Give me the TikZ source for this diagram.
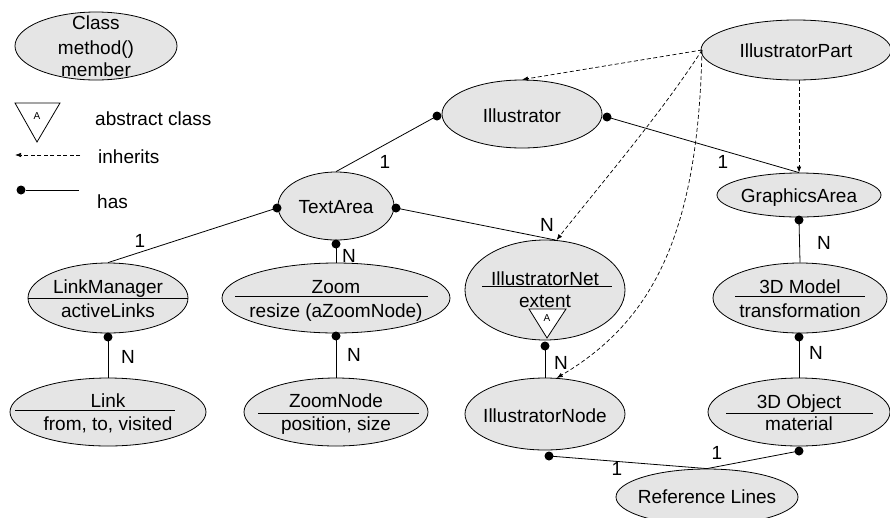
\documentclass[tikz,border=0pt]{standalone}
\usepackage{fontspec}
\setmainfont{Liberation Sans}
\usetikzlibrary{shapes.geometric,arrows.meta,calc}
\begin{document}
\begin{tikzpicture}[x=1pt,y=-1pt,
  cls/.style={ellipse, draw, fill=gray!20, line width=0.8pt, inner sep=0pt},
  txt/.style={font=\fontsize{19}{22}\selectfont, anchor=base, inner sep=0pt},
  num/.style={font=\fontsize{19}{22}\selectfont, inner sep=0pt},
  small/.style={font=\fontsize{10}{12}\selectfont, inner sep=0pt},
  dot/.style={circle, fill=black, inner sep=0pt, minimum size=9pt},
  has/.style={line width=0.8pt},
  sep/.style={line width=0.8pt},
  inh/.style={line width=0.7pt, dash pattern=on 4pt off 2.5pt, -{Latex[length=6pt,width=4.5pt]}},
  tri/.style={line width=0.8pt, fill=white}]
\useasboundingbox (0,0) rectangle (890,517);

% ---------- legend ----------
\node[cls, minimum width=162pt, minimum height=68pt] (legcls) at (96,46) {};
\node[txt] (legc1) at (96,29) {Class};
\node[txt] (legc2) at (96,54) {method()};
\node[txt] (legc3) at (96,76) {member};
\draw[tri] (15,103) -- (60,103) -- (37,142) -- cycle;
\node[small] (legA) at (37,116) {A};
\node[txt, anchor=base west] (legabs) at (95,125) {abstract class};
\coordinate (inhA) at (80,155);
\coordinate (inhB) at (15,155);
\draw[inh] (inhA) -- (inhB);
\node[txt, anchor=base west] (leginh) at (98,163) {inherits};
\node[dot] (hasdot) at (21,190) {};
\coordinate (hasend) at (79,190);
\draw[has] (hasdot) -- (hasend);
\node[txt, anchor=base west] (leghas) at (97,208) {has};

% ---------- classes ----------
\node[cls, minimum width=160pt, minimum height=68pt] (ill) at (522,114) {};
\node[txt] (illT) at (522,122) {Illustrator};

\node[cls, minimum width=190pt, minimum height=60pt] (part) at (796,50) {};
\node[txt] (partT) at (796,57) {IllustratorPart};

\node[cls, minimum width=116pt, minimum height=68pt] (ta) at (336,206) {};
\node[txt] (taT) at (336,213) {TextArea};

\node[cls, minimum width=164pt, minimum height=44pt] (ga) at (799,195) {};
\node[txt] (gaT) at (799,202) {GraphicsArea};

\node[cls, minimum width=160pt, minimum height=70pt] (lm) at (108,298) {};
\draw[sep] (lm.west) -- (lm.east);
\node[txt] (lmT1) at (108,293) {LinkManager};
\node[txt] (lmT2) at (108,317) {activeLinks};

\node[cls, minimum width=228pt, minimum height=70pt] (zoom) at (336,298) {};
\draw[sep] (235,296) -- (428,296);
\node[txt] (zoomT1) at (336,293) {Zoom};
\node[txt] (zoomT2) at (336,317) {resize (aZoomNode)};

\node[cls, minimum width=196pt, minimum height=68pt] (link) at (108,412) {};
\draw[sep] (15,410) -- (175,410);
\node[txt] (linkT1) at (108,407) {Link};
\node[txt] (linkT2) at (108,430) {from, to, visited};

\node[cls, minimum width=184pt, minimum height=68pt] (zn) at (336,412) {};
\draw[sep] (258,413) -- (419,413);
\node[txt] (znT1) at (336,407) {ZoomNode};
\node[txt] (znT2) at (336,430) {position, size};

\node[cls, minimum width=160pt, minimum height=100pt] (net) at (545,290) {};
\draw[sep] (482,286) -- (612,286);
\node[txt] (netT1) at (545,285) {IllustratorNet};
\node[txt] (netT2) at (545,307) {extent};
\draw[tri] (529,309) -- (566,309) -- (547,338) -- cycle;
\node[small] (netA) at (547,318) {A};

\node[cls, minimum width=160pt, minimum height=72pt] (inode) at (545,414) {};
\node[txt] (inodeT) at (545,422) {IllustratorNode};

\node[cls, minimum width=174pt, minimum height=70pt] (model) at (800,298) {};
\draw[sep] (735,296) -- (865,296);
\node[txt] (modelT1) at (800,293) {3D Model};
\node[txt] (modelT2) at (800,317) {transformation};

\node[cls, minimum width=182pt, minimum height=68pt] (obj) at (799,412) {};
\draw[sep] (726,413) -- (873,413);
\node[txt] (objT1) at (799,408) {3D Object};
\node[txt] (objT2) at (799,430) {material};

\node[cls, minimum width=182pt, minimum height=56pt] (ref) at (707,497) {};
\node[txt] (refT) at (707,503) {Reference Lines};

% ---------- has connectors ----------
\node[dot] (d1) at (437,116) {};
\node[dot] (d2) at (607,117) {};
\node[dot] (d3) at (277,208) {};
\node[dot] (d4) at (396,208) {};
\node[dot] (d5) at (336,244) {};
\node[dot] (d6) at (108,337) {};
\node[dot] (d7) at (336,336) {};
\node[dot] (d8) at (545,346) {};
\node[dot] (d9) at (799,220) {};
\node[dot] (d10) at (799,337) {};
\node[dot] (d11) at (549,456) {};
\node[dot] (d12) at (799,451) {};

\draw[has] (d1.center) -- (ta.north);
\draw[has] (d2.center) -- (ga.north);
\draw[has] (d3.center) -- (lm.north);
\draw[has] (d4.center) -- (net.78);
\draw[has] (d5.center) -- (zoom.north);
\draw[has] (d6.center) -- (link.north);
\draw[has] (d7.center) -- (zn.north);
\draw[has] (d8.center) -- (inode.north);
\draw[has] (d9.center) -- (model.north);
\draw[has] (d10.center) -- (obj.north);
\draw[has] (d11.center) -- (ref.north);
\draw[has] (d12.center) -- (ref.north);

% ---------- inherits ----------
\coordinate (ps) at (702,50);
\draw[inh] (ps) -- (ill.north);
\draw[inh] (ps) .. controls (660,115) and (600,185) .. (net.77);
\draw[inh] (ps) .. controls (698,230) and (655,320) .. (inode.72);
\draw[inh] (ga.north |- part.south) -- (ga.north);

% ---------- multiplicities ----------
\node[num] (m1) at (385,162) {1};
\node[num] (m2) at (723,162) {1};
\node[num] (m3) at (547,225) {N};
\node[num] (m4) at (140,241) {1};
\node[num] (m5) at (128,357) {N};
\node[num] (m6) at (349,256) {N};
\node[num] (m7) at (354,355) {N};
\node[num] (m8) at (561,363) {N};
\node[num] (m9) at (824,243) {N};
\node[num] (m10) at (816,353) {N};
\node[num] (m11) at (617,469) {1};
\node[num] (m12) at (717,453) {1};
\end{tikzpicture}
\end{document}
